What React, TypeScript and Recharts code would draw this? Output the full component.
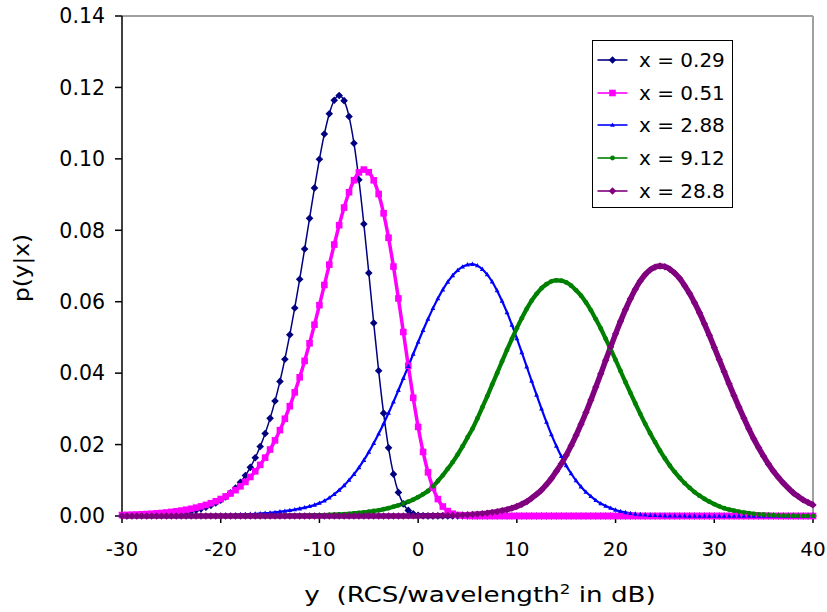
import React from 'react';
import { LineChart, Line, XAxis, YAxis, ReferenceLine } from 'recharts';

// y grid runs from -30 dB to 40 dB in 0.5 dB steps (141 points)
const Y_START = -30;
const Y_STEP = 0.5;

const xTicks = [-30, -20, -10, 0, 10, 20, 30, 40];
const yTicks = [0, 0.02, 0.04, 0.06, 0.08, 0.1, 0.12, 0.14];

const seriesNames = ['x = 0.29', 'x = 0.51', 'x = 2.88', 'x = 9.12', 'x = 28.8'];

// p(y|x), one value per 0.5 dB
const pX029 = [
  0.00008, 0.0001, 0.00012, 0.00014, 0.00018, 0.00021, 0.00026, 0.00032, 0.0004, 0.00049,
  0.0006, 0.00073, 0.0009, 0.0011, 0.00134, 0.00164, 0.002, 0.00244, 0.00298, 0.00362,
  0.0044, 0.00534, 0.00647, 0.00782, 0.00943, 0.01135, 0.01362, 0.01631, 0.01944, 0.02312,
  0.02734, 0.03218, 0.03769, 0.0439, 0.05076, 0.05825, 0.0663, 0.07474, 0.08334, 0.09187,
  0.09988, 0.10698, 0.11265, 0.11641, 0.11775, 0.1163, 0.11184, 0.10435, 0.09413, 0.08175,
  0.06806, 0.05404, 0.04065, 0.0288, 0.01908, 0.01172, 0.00661, 0.0034, 0.00157, 0.00064,
  0.00023, 0.00007, 0.00001, 0, 0, 0, 0, 0, 0, 0,
  0, 0, 0, 0, 0, 0, 0, 0, 0, 0,
  0, 0, 0, 0, 0, 0, 0, 0, 0, 0,
  0, 0, 0, 0, 0, 0, 0, 0, 0, 0,
  0, 0, 0, 0, 0, 0, 0, 0, 0, 0,
  0, 0, 0, 0, 0, 0, 0, 0, 0, 0,
  0, 0, 0, 0, 0, 0, 0, 0, 0, 0,
  0, 0, 0, 0, 0, 0, 0, 0, 0, 0,
  0,
];

const pX051 = [
  0.00027, 0.00031, 0.00036, 0.00041, 0.00048, 0.00055, 0.00064, 0.00074, 0.00085, 0.00098,
  0.00114, 0.00131, 0.00152, 0.00175, 0.00202, 0.00234, 0.00269, 0.00311, 0.00358, 0.00413,
  0.00476, 0.00548, 0.0063, 0.00724, 0.00831, 0.00954, 0.01093, 0.01251, 0.01432, 0.01634,
  0.01861, 0.02118, 0.02404, 0.02722, 0.03074, 0.03462, 0.03884, 0.04343, 0.04835, 0.05357,
  0.05903, 0.06468, 0.07038, 0.07601, 0.08142, 0.08636, 0.09065, 0.09402, 0.09621, 0.097,
  0.09627, 0.094, 0.09015, 0.08475, 0.07791, 0.06984, 0.06091, 0.05151, 0.04209, 0.0331,
  0.02495, 0.01794, 0.01223, 0.00787, 0.00474, 0.00265, 0.00137, 0.00065, 0.00028, 0.00011,
  0.00004, 0, 0, 0, 0, 0, 0, 0, 0, 0,
  0, 0, 0, 0, 0, 0, 0, 0, 0, 0,
  0, 0, 0, 0, 0, 0, 0, 0, 0, 0,
  0, 0, 0, 0, 0, 0, 0, 0, 0, 0,
  0, 0, 0, 0, 0, 0, 0, 0, 0, 0,
  0, 0, 0, 0, 0, 0, 0, 0, 0, 0,
  0, 0, 0, 0, 0, 0, 0, 0, 0, 0,
  0,
];

const pX288 = [
  0.00002, 0.00002, 0.00002, 0.00003, 0.00003, 0.00003, 0.00004, 0.00004, 0.00005, 0.00005,
  0.00006, 0.00007, 0.00008, 0.00009, 0.0001, 0.00012, 0.00013, 0.00015, 0.00018, 0.0002,
  0.00023, 0.00027, 0.0003, 0.00035, 0.0004, 0.00046, 0.00053, 0.0006, 0.0007, 0.0008,
  0.00091, 0.00105, 0.0012, 0.00137, 0.00157, 0.0018, 0.00205, 0.00235, 0.0027, 0.0031,
  0.0036, 0.00423, 0.00509, 0.00609, 0.00724, 0.00855, 0.01004, 0.01171, 0.01357, 0.01563,
  0.01789, 0.02035, 0.023, 0.02583, 0.02882, 0.03196, 0.03522, 0.03856, 0.04195, 0.04535,
  0.04872, 0.052, 0.05516, 0.05813, 0.06089, 0.06337, 0.06554, 0.06735, 0.06877, 0.06978,
  0.07036, 0.0705, 0.0701, 0.0691, 0.0676, 0.0656, 0.0631, 0.0602, 0.057, 0.0535,
  0.0497, 0.0458, 0.0418, 0.0378, 0.0339, 0.03, 0.0263, 0.0228, 0.0196, 0.0167,
  0.0141, 0.0119, 0.0099, 0.0082, 0.0067, 0.0055, 0.0044, 0.0035, 0.0028, 0.0022,
  0.0017, 0.0013, 0.001, 0.00076, 0.00057, 0.00043, 0.00032, 0.00023, 0.00017, 0.00012,
  0.00009, 0.00006, 0.00004, 0.00003, 0.00002, 0.00001, 0, 0, 0, 0,
  0, 0, 0, 0, 0, 0, 0, 0, 0, 0,
  0, 0, 0, 0, 0, 0, 0, 0, 0, 0,
  0,
];

const pX912 = [
  0, 0, 0, 0, 0, 0, 0, 0, 0, 0,
  0, 0, 0, 0, 0, 0, 0, 0, 0, 0,
  0, 0, 0, 0, 0.00001, 0.00002, 0.00002, 0.00002, 0.00003, 0.00003,
  0.00004, 0.00005, 0.00006, 0.00007, 0.00008, 0.00009, 0.00011, 0.00013, 0.00016, 0.00019,
  0.00022, 0.00026, 0.00031, 0.00037, 0.00044, 0.00052, 0.00061, 0.00072, 0.00085, 0.001,
  0.0012, 0.0014, 0.0016, 0.0019, 0.0022, 0.0026, 0.003, 0.0035, 0.004, 0.0046,
  0.0053, 0.0061, 0.007, 0.0083, 0.0098, 0.0114, 0.0132, 0.0151, 0.0172, 0.0195,
  0.022, 0.0244, 0.0273, 0.0304, 0.0335, 0.0368, 0.04, 0.0433, 0.0465, 0.0496,
  0.0526, 0.0554, 0.058, 0.0603, 0.0622, 0.0638, 0.0649, 0.0657, 0.066, 0.0659,
  0.0654, 0.0645, 0.0632, 0.0617, 0.0598, 0.0576, 0.0551, 0.0525, 0.0496, 0.0467,
  0.0437, 0.0406, 0.0375, 0.0345, 0.0315, 0.0286, 0.0258, 0.0232, 0.0207, 0.0183,
  0.0161, 0.0141, 0.0123, 0.0107, 0.0092, 0.0079, 0.0067, 0.0057, 0.0048, 0.004,
  0.0033, 0.0027, 0.0022, 0.0018, 0.0015, 0.0012, 0.00096, 0.00077, 0.00061, 0.00048,
  0.00037, 0.00029, 0.00022, 0.00017, 0.00013, 0.0001, 0.00007, 0.00005, 0.00004, 0.00003,
  0.00002,
];

const pX288dB = [
  0, 0, 0, 0, 0, 0, 0, 0, 0, 0,
  0, 0, 0, 0, 0, 0, 0, 0, 0, 0,
  0, 0, 0, 0, 0, 0, 0, 0, 0, 0,
  0, 0, 0, 0, 0, 0, 0, 0, 0, 0,
  0, 0, 0, 0, 0, 0, 0, 0, 0, 0,
  0, 0, 0, 0, 0, 0, 0, 0.00001, 0.00002, 0.00002,
  0.00003, 0.00004, 0.00005, 0.00007, 0.00009, 0.00011, 0.00014, 0.00018, 0.00022, 0.00028,
  0.00035, 0.00043, 0.00053, 0.00065, 0.0008, 0.001, 0.0012, 0.0015, 0.0018, 0.0022,
  0.0027, 0.0033, 0.004, 0.005, 0.0061, 0.0073, 0.0088, 0.0105, 0.0125, 0.0146,
  0.017, 0.0197, 0.0226, 0.0257, 0.029, 0.0325, 0.0361, 0.0398, 0.0436, 0.0473,
  0.051, 0.0545, 0.0578, 0.0608, 0.0635, 0.0658, 0.0676, 0.0689, 0.0697, 0.07,
  0.0698, 0.0691, 0.068, 0.0665, 0.0645, 0.0623, 0.0597, 0.0569, 0.0538, 0.0506,
  0.0472, 0.0438, 0.0404, 0.037, 0.0337, 0.0305, 0.0274, 0.0244, 0.0216, 0.0191,
  0.0167, 0.0145, 0.0125, 0.0108, 0.0092, 0.0078, 0.0065, 0.0055, 0.0045, 0.0038,
  0.0031,
];

const data = pX029.map((_, i) => ({
  y: Y_START + i * Y_STEP,
  s1: pX029[i],
  s2: pX051[i],
  s3: pX288[i],
  s4: pX912[i],
  s5: pX288dB[i],
}));

const FONT = '"DejaVu Sans", sans-serif';

type Shape = 'diamond' | 'square' | 'triangle' | 'dot' | 'star';

const drawMarker = (shape: Shape, color: string, cx: number, cy: number, key?: string) => {
  switch (shape) {
    case 'diamond':
      return <polygon key={key} points={`${cx},${cy - 3.8} ${cx + 3.8},${cy} ${cx},${cy + 3.8} ${cx - 3.8},${cy}`} fill={color} />;
    case 'square':
      return <rect key={key} x={cx - 3.3} y={cy - 3.3} width={6.6} height={6.6} fill={color} />;
    case 'triangle':
      return <polygon key={key} points={`${cx},${cy - 2.6} ${cx + 2.4},${cy + 1.7} ${cx - 2.4},${cy + 1.7}`} fill={color} />;
    case 'star':
      return <rect key={key} x={cx - 2.6} y={cy - 2.6} width={5.2} height={5.2} fill={color} transform={`rotate(45 ${cx} ${cy})`} />;
    default:
      return <circle key={key} cx={cx} cy={cy} r={2.4} fill={color} />;
  }
};

const SERIES: { key: string; name: string; color: string; width: number; shape: Shape }[] = [
  { key: 's1', name: seriesNames[0], color: '#000080', width: 1.5, shape: 'diamond' },
  { key: 's2', name: seriesNames[1], color: '#FF00FF', width: 3.5, shape: 'square' },
  { key: 's3', name: seriesNames[2], color: '#0000FF', width: 2.2, shape: 'triangle' },
  { key: 's4', name: seriesNames[3], color: '#008000', width: 4.2, shape: 'dot' },
  { key: 's5', name: seriesNames[4], color: '#800080', width: 5.5, shape: 'star' },
];

function LegendBox() {
  return (
    <div
      style={{
        position: 'absolute',
        left: 592,
        top: 40,
        width: 139,
        border: '1.5px solid #000',
        background: '#fff',
        paddingTop: 3,
        fontFamily: FONT,
        fontSize: 20,
        color: '#000',
      }}
    >
      {SERIES.map((s) => (
        <div key={s.key} style={{ display: 'flex', alignItems: 'center', height: 32.6 }}>
          <svg width={46} height={14} style={{ display: 'block' }}>
            <line x1={4.5} x2={34.5} y1={7} y2={7} stroke={s.color} strokeWidth={1.6} />
            {drawMarker(s.shape, s.color, 19.5, 7)}
          </svg>
          <span style={{ whiteSpace: 'pre' }}>{s.name}</span>
        </div>
      ))}
    </div>
  );
}

export default function App() {
  return (
    <div style={{ position: 'absolute', left: 0, top: 0, width: 827, height: 612, background: '#fff' }}>
      <LineChart width={827} height={612} data={data} margin={{ top: 16, right: 14, bottom: 36, left: 0 }}>
        <ReferenceLine y={0.14} stroke="#a0a0a0" strokeWidth={2} />
        <ReferenceLine x={40} stroke="#a0a0a0" strokeWidth={2} />
        <XAxis
          dataKey="y"
          type="number"
          domain={[-30, 40]}
          ticks={xTicks}
          height={60}
          tickSize={7}
          tickMargin={19}
          stroke="#000"
          strokeWidth={1.5}
          tick={{ fill: '#000', fontSize: 20, fontFamily: FONT }}
        />
        <YAxis
          type="number"
          domain={[0, 0.14]}
          ticks={yTicks}
          width={122}
          tickSize={7}
          tickMargin={10}
          stroke="#000"
          strokeWidth={1.5}
          tickFormatter={(v: number) => v.toFixed(2)}
          tick={{ fill: '#000', fontSize: 20.5, fontFamily: FONT }}
        />
        {SERIES.map((s) => (
          <Line
            key={s.key}
            dataKey={s.key}
            name={s.name}
            type="monotone"
            stroke={s.color}
            strokeWidth={s.width}
            isAnimationActive={false}
            dot={(p: any) => drawMarker(s.shape, s.color, p.cx, p.cy, `${s.key}-${p.index}`)}
            activeDot={false}
          />
        ))}
      </LineChart>
      <LegendBox />
      <div
        style={{
          position: 'absolute',
          left: 22,
          top: 268,
          transform: 'translate(-50%, -50%) rotate(-90deg) scaleX(1.1)',
          fontFamily: FONT,
          fontSize: 21,
          color: '#000',
          whiteSpace: 'pre',
        }}
      >
        p(y|x)
      </div>
      <div
        style={{
          position: 'absolute',
          left: 480,
          top: 578,
          transform: 'translateX(-50%) scaleX(1.19)',
          fontFamily: FONT,
          fontSize: 22,
          lineHeight: '22px',
          color: '#000',
          whiteSpace: 'pre',
        }}
      >
        y  (RCS/wavelength<sup style={{ fontSize: 14 }}>2</sup> in dB)
      </div>
    </div>
  );
}
